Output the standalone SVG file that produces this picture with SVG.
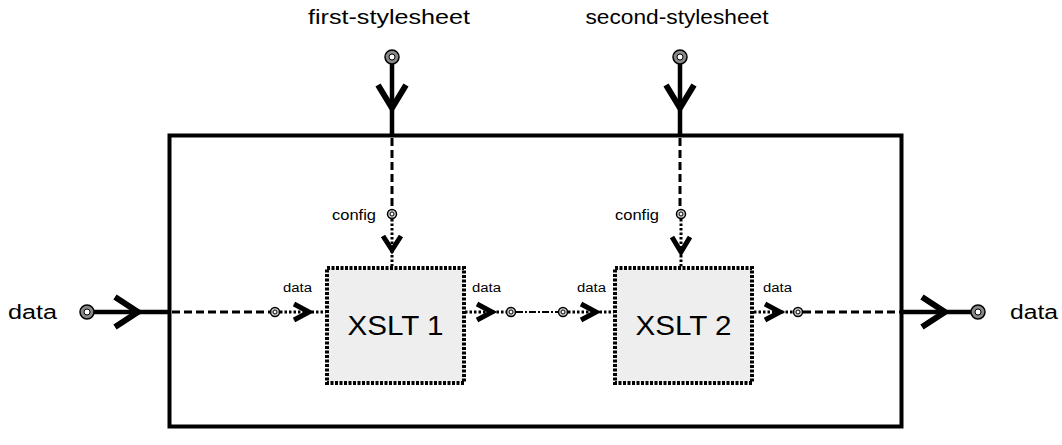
<svg xmlns="http://www.w3.org/2000/svg" width="1062" height="445" viewBox="0 0 1062 445">
<style>
text{font-family:"Liberation Sans",Arial,sans-serif;fill:#000}
.big{font-size:20px}
.sm{font-size:12px}
.cf{font-size:14px}
.box{fill:#eeeeee;stroke:#000;stroke-width:4;stroke-dasharray:3 1.5}
.outer{fill:none;stroke:#000;stroke-width:4}
.thick{stroke:#000;stroke-width:4.5;fill:none}
.dash{stroke:#000;stroke-width:3;stroke-dasharray:8 4;fill:none}
.dot{stroke:#000;stroke-width:3;stroke-dasharray:2.5 2;fill:none}
.dd{stroke:#000;stroke-width:2;stroke-dasharray:7 2 2 2;fill:none}
.head{stroke:#000;stroke-width:6;fill:none;stroke-linejoin:miter;stroke-linecap:butt}
.shead{stroke:#000;stroke-width:5;fill:none;stroke-linejoin:miter}
.port{fill:#888;stroke:#000;stroke-width:1.5}
.hole{fill:#fff;stroke:#000;stroke-width:1}
.sport{fill:#ccc;stroke:#000;stroke-width:1.5}
.shole{fill:#fff;stroke:#000;stroke-width:1}
</style>
<g id="outer"><rect class="outer" x="169.5" y="135.5" width="732" height="291"/></g>
<g id="connectors">
  <line class="thick" x1="392" y1="64" x2="392" y2="136"/>
  <path class="head" d="M378 85 L392 108 L406 85"/>
  <line class="dash" x1="392" y1="138" x2="392" y2="209"/>
  <line class="dot" x1="392" y1="219" x2="392" y2="266"/>
  <path class="shead" d="M383 236 L392 250 L401 236"/>
  <line class="thick" x1="680" y1="64" x2="680" y2="136"/>
  <path class="head" d="M666 85 L680 108 L694 85"/>
  <line class="dash" x1="680" y1="138" x2="680" y2="208"/>
  <line class="dot" x1="681" y1="219" x2="681" y2="267"/>
  <path class="shead" d="M672 237 L681 252 L690 237"/>
  <line class="thick" x1="94" y1="312" x2="169" y2="312"/>
  <path class="head" d="M115 297 L138 312 L115 327"/>
  <line class="dash" x1="172" y1="312" x2="270" y2="312"/>
  <line class="dot" x1="280" y1="312" x2="326" y2="312"/>
  <path class="shead" d="M294 304 L309 312 L294 320"/>
  <line class="dot" x1="465" y1="312" x2="506" y2="312"/>
  <path class="shead" d="M477 304 L492 312 L477 320"/>
  <line class="dd" x1="516" y1="312" x2="558" y2="312"/>
  <line class="dot" x1="568" y1="312" x2="614" y2="312"/>
  <path class="shead" d="M581 304 L596 312 L581 320"/>
  <line class="dot" x1="754" y1="312" x2="793" y2="312"/>
  <path class="shead" d="M765 304 L780 312 L765 320"/>
  <line class="dash" x1="803" y1="312" x2="900" y2="312"/>
  <line class="thick" x1="902" y1="312" x2="971" y2="312"/>
  <path class="head" d="M922 297 L945 312 L922 327"/>
</g>
<g id="xslt1">
  <rect class="box" x="327" y="268" width="137" height="115"/>
  <text x="395.5" y="335" font-size="27" text-anchor="middle" textLength="96" lengthAdjust="spacingAndGlyphs">XSLT 1</text>
</g>
<g id="xslt2">
  <rect class="box" x="615" y="268" width="137" height="115"/>
  <text x="683.5" y="335" font-size="27" text-anchor="middle" textLength="96" lengthAdjust="spacingAndGlyphs">XSLT 2</text>
</g>
<g id="port-first-stylesheet">
  <circle class="port" cx="392" cy="57" r="7"/><circle class="hole" cx="392" cy="57" r="3"/>
  <text class="big" x="389" y="24" text-anchor="middle" textLength="162" lengthAdjust="spacingAndGlyphs">first-stylesheet</text>
</g>
<g id="port-second-stylesheet">
  <circle class="port" cx="680" cy="57" r="7"/><circle class="hole" cx="680" cy="57" r="3"/>
  <text class="big" x="677" y="24" text-anchor="middle" textLength="183" lengthAdjust="spacingAndGlyphs">second-stylesheet</text>
</g>
<g id="port-data-in">
  <circle class="port" cx="87" cy="312" r="7"/><circle class="hole" cx="87" cy="312" r="3"/>
  <text class="big" x="8" y="319" textLength="49" lengthAdjust="spacingAndGlyphs">data</text>
</g>
<g id="port-data-out">
  <circle class="port" cx="978" cy="312" r="7"/><circle class="hole" cx="978" cy="312" r="3"/>
  <text class="big" x="1010" y="319" textLength="48" lengthAdjust="spacingAndGlyphs">data</text>
</g>
<g id="xslt1-ports">
  <circle class="sport" cx="392" cy="214" r="4.5"/><circle class="shole" cx="392" cy="214" r="2"/>
  <text class="cf" x="332" y="220" textLength="44" lengthAdjust="spacingAndGlyphs">config</text>
  <circle class="sport" cx="275" cy="312" r="4.5"/><circle class="shole" cx="275" cy="312" r="2"/>
  <text class="sm" x="283" y="292" textLength="29" lengthAdjust="spacingAndGlyphs">data</text>
  <circle class="sport" cx="511" cy="312" r="4.5"/><circle class="shole" cx="511" cy="312" r="2"/>
  <text class="sm" x="472" y="292" textLength="29" lengthAdjust="spacingAndGlyphs">data</text>
</g>
<g id="xslt2-ports">
  <circle class="sport" cx="681" cy="214" r="4.5"/><circle class="shole" cx="681" cy="214" r="2"/>
  <text class="cf" x="615" y="220" textLength="44" lengthAdjust="spacingAndGlyphs">config</text>
  <circle class="sport" cx="563" cy="312" r="4.5"/><circle class="shole" cx="563" cy="312" r="2"/>
  <text class="sm" x="577" y="292" textLength="29" lengthAdjust="spacingAndGlyphs">data</text>
  <circle class="sport" cx="798" cy="312" r="4.5"/><circle class="shole" cx="798" cy="312" r="2"/>
  <text class="sm" x="763" y="292" textLength="29" lengthAdjust="spacingAndGlyphs">data</text>
</g>
</svg>
